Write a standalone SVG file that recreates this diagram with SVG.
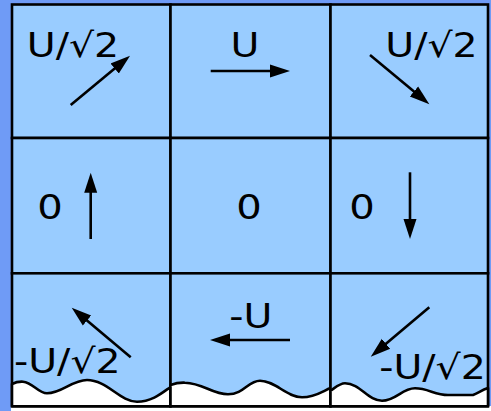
<svg xmlns="http://www.w3.org/2000/svg" width="491" height="411" viewBox="0 0 491 411">
<defs>
<style>
.cell{fill:#99CCFF;stroke:#000;stroke-width:2.6}
.wave{fill:#fff;stroke:#000;stroke-width:2.6;stroke-linejoin:round}
.lbl{font-family:"DejaVu Sans",Verdana,sans-serif;font-size:34px;fill:#000;text-anchor:middle}
.arr{stroke:#000;stroke-width:2.6;fill:none;marker-end:url(#ah)}
</style>
<marker id="ah" markerUnits="userSpaceOnUse" markerWidth="24" markerHeight="16" viewBox="0 -8 24 16" refX="2" refY="0" orient="auto">
<path d="M0,-6.5 L20,0 L0,6.5 z" fill="#000"/>
</marker>
</defs>
<rect x="0" y="0" width="491" height="411" fill="#6F9BF6"/>
<rect x="11" y="406" width="480" height="5" fill="#fff"/>

<g id="cell-top-left">
<rect class="cell" x="12" y="4.5" width="158.5" height="133.5"/>
<text class="lbl" transform="translate(73,57) scale(1.16,1)">U/√2</text>
</g>
<g id="cell-top-middle">
<rect class="cell" x="170.5" y="4.5" width="160" height="133.5"/>
<text class="lbl" transform="translate(245,57) scale(1.16,1)">U</text>
</g>
<g id="cell-top-right">
<rect class="cell" x="330.5" y="4.5" width="157.5" height="133.5"/>
<text class="lbl" transform="translate(431.5,57) scale(1.16,1)">U/√2</text>
</g>
<g id="cell-mid-left">
<rect class="cell" x="12" y="138" width="158.5" height="135.3"/>
<text class="lbl" transform="translate(50,218.5) scale(1.18,1)">0</text>
</g>
<g id="cell-center">
<rect class="cell" x="170.5" y="138" width="160" height="135.3"/>
<text class="lbl" transform="translate(249,218.5) scale(1.18,1)">0</text>
</g>
<g id="cell-mid-right">
<rect class="cell" x="330.5" y="138" width="157.5" height="135.3"/>
<text class="lbl" transform="translate(362,219) scale(1.18,1)">0</text>
</g>
<g id="cell-bottom-left">
<rect class="cell" x="12" y="273.3" width="158.5" height="133"/>
<path class="wave" d="M12,384 C16,382 19,381.5 23,381.7 C33,382.5 38,393.3 47,393.3 C62,393.3 72,380 87,380 C107,380 120,401.7 137,401.7 C152,401.7 162,393 170.5,387 L170.5,406.3 L12,406.3 Z"/>
<text class="lbl" transform="translate(67.3,373.3) scale(1.16,1)">-U/√2</text>
</g>
<g id="cell-bottom-middle">
<rect class="cell" x="170.5" y="273.3" width="160" height="133"/>
<path class="wave" d="M170.5,385 C176,383 180,382.5 185,382.7 C203,383 212,394.3 228,394.3 C244,394.3 248,380.7 260,380.7 C275,380.7 287,397.3 302,397.3 C315,397.3 323,391 330.5,388 L330.5,406.3 L170.5,406.3 Z"/>
<text class="lbl" transform="translate(250.8,328.3) scale(1.16,1)">-U</text>
</g>
<g id="cell-bottom-right">
<rect class="cell" x="330.5" y="273.3" width="157.5" height="133"/>
<path class="wave" d="M330.5,390.7 C336,387 340,383.3 345,383.3 C360,383.3 368,400.7 382,400.7 C396,400.7 402,388.3 415,388.3 C428,388.3 435,395 448,395 L473,395 C478,393 482,390 488,388 L488,406.3 L330.5,406.3 Z"/>
<text class="lbl" transform="translate(432.5,379.3) scale(1.16,1)">-U/√2</text>
</g>

<g id="connectors">
<line class="arr" x1="70.7" y1="105" x2="116.2" y2="67.2"/>
<line class="arr" x1="210.7" y1="71" x2="272" y2="71"/>
<line class="arr" x1="370" y1="55" x2="415.5" y2="92.8"/>
<line class="arr" x1="90.7" y1="239" x2="90.7" y2="190.7"/>
<line class="arr" x1="410" y1="172.3" x2="410" y2="221"/>
<line class="arr" x1="130.7" y1="357.3" x2="85.5" y2="319.3"/>
<line class="arr" x1="290" y1="340" x2="228" y2="340"/>
<line class="arr" x1="429.3" y1="307.3" x2="384.5" y2="345.1"/>
</g>
</svg>
